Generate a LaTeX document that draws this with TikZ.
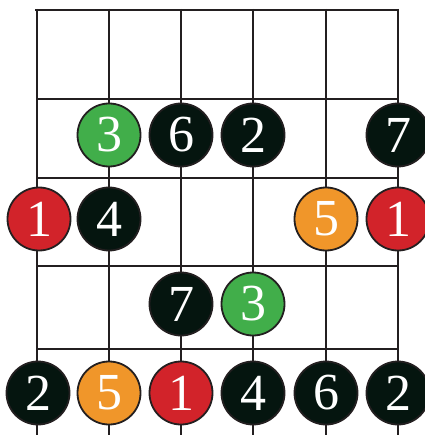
\documentclass[tikz,border=0pt]{standalone}
\usepackage{fontspec}
\setmainfont{Liberation Serif}
\definecolor{gridc}{HTML}{231F20}
\definecolor{ngreen}{HTML}{41AE4A}
\definecolor{nred}{HTML}{D2232A}
\definecolor{norange}{HTML}{F0962A}
\definecolor{nblack}{HTML}{05150F}
\tikzset{
  gridline/.style={draw=gridc, line width=2.3pt},
  note/.style={circle, draw=gridc, line width=1.8pt, minimum size=63pt, inner sep=0pt, text=white, font=\fontsize{52}{52}\selectfont},
  ngr/.style={note, fill=ngreen},
  nrd/.style={note, fill=nred},
  nor/.style={note, fill=norange},
  nbk/.style={note, fill=nblack},
}
\begin{document}
\begin{tikzpicture}[x=1pt,y=-1pt]
\useasboundingbox (0,0) rectangle (424,435);
% frets
\draw[gridline] (35,10) -- (399,10);
\foreach \y in {99,178,266,349} \draw[gridline] (37,\y) -- (398,\y);
% strings
\foreach \x in {37,109,181,253,326,398} \draw[gridline] (\x,9) -- (\x,440);
% row 1
\node[ngr] (a2) at (109,135) {3};
\node[nbk] (a3) at (181,135) {6};
\node[nbk] (a4) at (253,135) {2};
\node[nbk] (a6) at (398,135) {7};
% row 2
\node[nrd] (b1) at (39,219) {1};
\node[nbk] (b2) at (109,219) {4};
\node[nor] (b5) at (326,219) {5};
\node[nrd] (b6) at (398,219) {1};
% row 3
\node[nbk] (c3) at (181,304) {7};
\node[ngr] (c4) at (253,304) {3};
% row 4
\node[nbk] (d1) at (38,393) {2};
\node[nor] (d2) at (109,393) {5};
\node[nrd] (d3) at (181,393) {1};
\node[nbk] (d4) at (253,393) {4};
\node[nbk] (d5) at (326,393) {6};
\node[nbk] (d6) at (398,393) {2};
\end{tikzpicture}
\end{document}
